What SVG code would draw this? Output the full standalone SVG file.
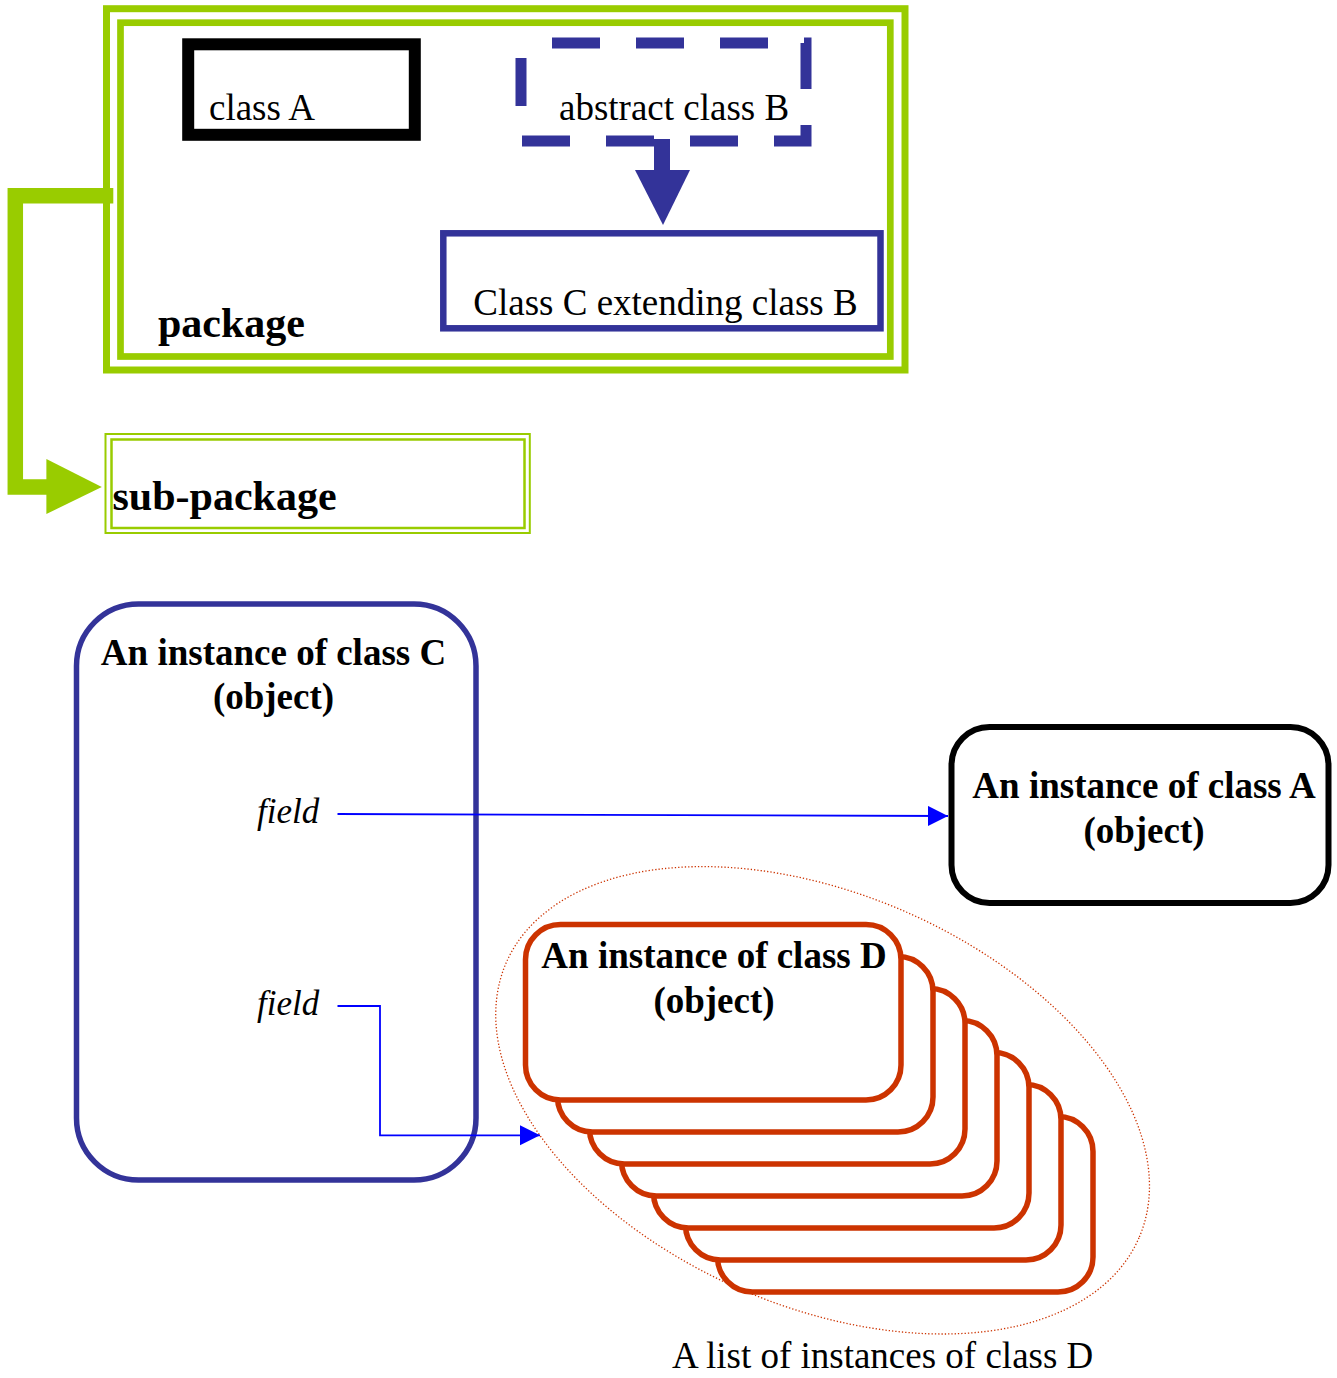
<svg xmlns="http://www.w3.org/2000/svg" width="1337" height="1378" viewBox="0 0 1337 1378">
<style>
.t{font-family:"Liberation Serif","Times New Roman",serif;fill:#000}
.b{font-weight:bold}
.pkg{fill:none;stroke:#99cc00}
.card{fill:#fff;stroke:#cc3300;stroke-width:5.5}
.lnk{fill:none;stroke:#0000ff;stroke-width:1.8}
</style>
<defs>
<marker id="ba" markerUnits="userSpaceOnUse" markerWidth="22" markerHeight="22" refX="20" refY="10" orient="auto">
<path d="M0,0 L20,10 L0,20 Z" fill="#0000ff"/>
</marker>
</defs>
<rect width="1337" height="1378" fill="#fff"/>

<g id="package">
<rect class="pkg" x="106.5" y="8.7" width="798.5" height="361.3" stroke-width="7"/>
<rect class="pkg" x="120.5" y="22.7" width="769.8" height="333.8" stroke-width="6.7"/>
<text class="t b" x="158" y="337" font-size="42">package</text>
</g>

<g id="classA">
<rect x="188.2" y="44.3" width="226.6" height="90.5" fill="#fff" stroke="#000" stroke-width="12"/>
<text class="t" x="209" y="120" font-size="37">class A</text>
</g>

<g id="classB">
<rect x="521" y="43" width="285" height="98" fill="none" stroke="#333399" stroke-width="11" stroke-dasharray="48 36" stroke-dashoffset="53"/>
<text class="t" x="559" y="120" font-size="37">abstract class B</text>
</g>

<g id="classC">
<rect x="443.3" y="233.3" width="437.2" height="95" fill="#fff" stroke="#333399" stroke-width="6.5"/>
<text class="t" x="473.3" y="315" font-size="37">Class C extending class B</text>
</g>

<g id="subpackage">
<rect class="pkg" x="105.5" y="434" width="424.3" height="99" stroke-width="2"/>
<rect class="pkg" x="111.5" y="439.5" width="413" height="88.5" stroke-width="2.5"/>
<text class="t b" x="112.5" y="510" font-size="42">sub-package</text>
</g>

<g id="instanceC">
<rect x="76.5" y="604" width="399.5" height="576" rx="62" ry="62" fill="#fff" stroke="#333399" stroke-width="5.5"/>
<text class="t b" x="273.5" y="665" font-size="37" text-anchor="middle">An instance of class C</text>
<text class="t b" x="273.5" y="709" font-size="37" text-anchor="middle">(object)</text>
<text class="t" x="257" y="823" font-size="35" font-style="italic">field</text>
<text class="t" x="257" y="1015" font-size="35" font-style="italic">field</text>
</g>

<g id="instanceA">
<rect x="951.5" y="727" width="377" height="176" rx="38" ry="38" fill="#fff" stroke="#000" stroke-width="6"/>
<text class="t b" x="1144" y="798" font-size="37" text-anchor="middle">An instance of class A</text>
<text class="t b" x="1144" y="843" font-size="37" text-anchor="middle">(object)</text>
</g>

<g id="listD">
<ellipse cx="822.6" cy="1100.3" rx="345" ry="206" transform="rotate(23.5 822.6 1100.3)" fill="none" stroke="#cc3300" stroke-width="1.3" stroke-dasharray="1.3 2"/>
<rect class="card" x="717.5" y="1116.5" width="375.5" height="175.5" rx="35" ry="35"/>
<rect class="card" x="685.5" y="1084.5" width="375.5" height="175.5" rx="35" ry="35"/>
<rect class="card" x="653.5" y="1052.5" width="375.5" height="175.5" rx="35" ry="35"/>
<rect class="card" x="621.5" y="1020.5" width="375.5" height="175.5" rx="35" ry="35"/>
<rect class="card" x="589.5" y="988.5" width="375.5" height="175.5" rx="35" ry="35"/>
<rect class="card" x="557.5" y="956.5" width="375.5" height="175.5" rx="35" ry="35"/>
<rect class="card" x="525.5" y="924.5" width="375.5" height="175.5" rx="35" ry="35"/>
<text class="t b" x="714" y="968" font-size="37" text-anchor="middle">An instance of class D</text>
<text class="t b" x="714" y="1013" font-size="37" text-anchor="middle">(object)</text>
<text class="t" x="672" y="1368" font-size="37">A list of instances of class D</text>
</g>

<g id="connectors">
<path d="M113.3,195.8 H15.3 V487 H48" fill="none" stroke="#99cc00" stroke-width="15.5"/>
<path d="M46.4,459 L101.8,487 L46.4,514 Z" fill="#99cc00"/>
<rect x="654" y="139" width="16" height="32" fill="#333399"/>
<path d="M635,170 L690,170 L663,225 Z" fill="#333399"/>
<path class="lnk" d="M337.5,814 L948,816" marker-end="url(#ba)"/>
<path class="lnk" d="M337.5,1006 H380 V1135.3 H540" marker-end="url(#ba)"/>
</g>
</svg>
